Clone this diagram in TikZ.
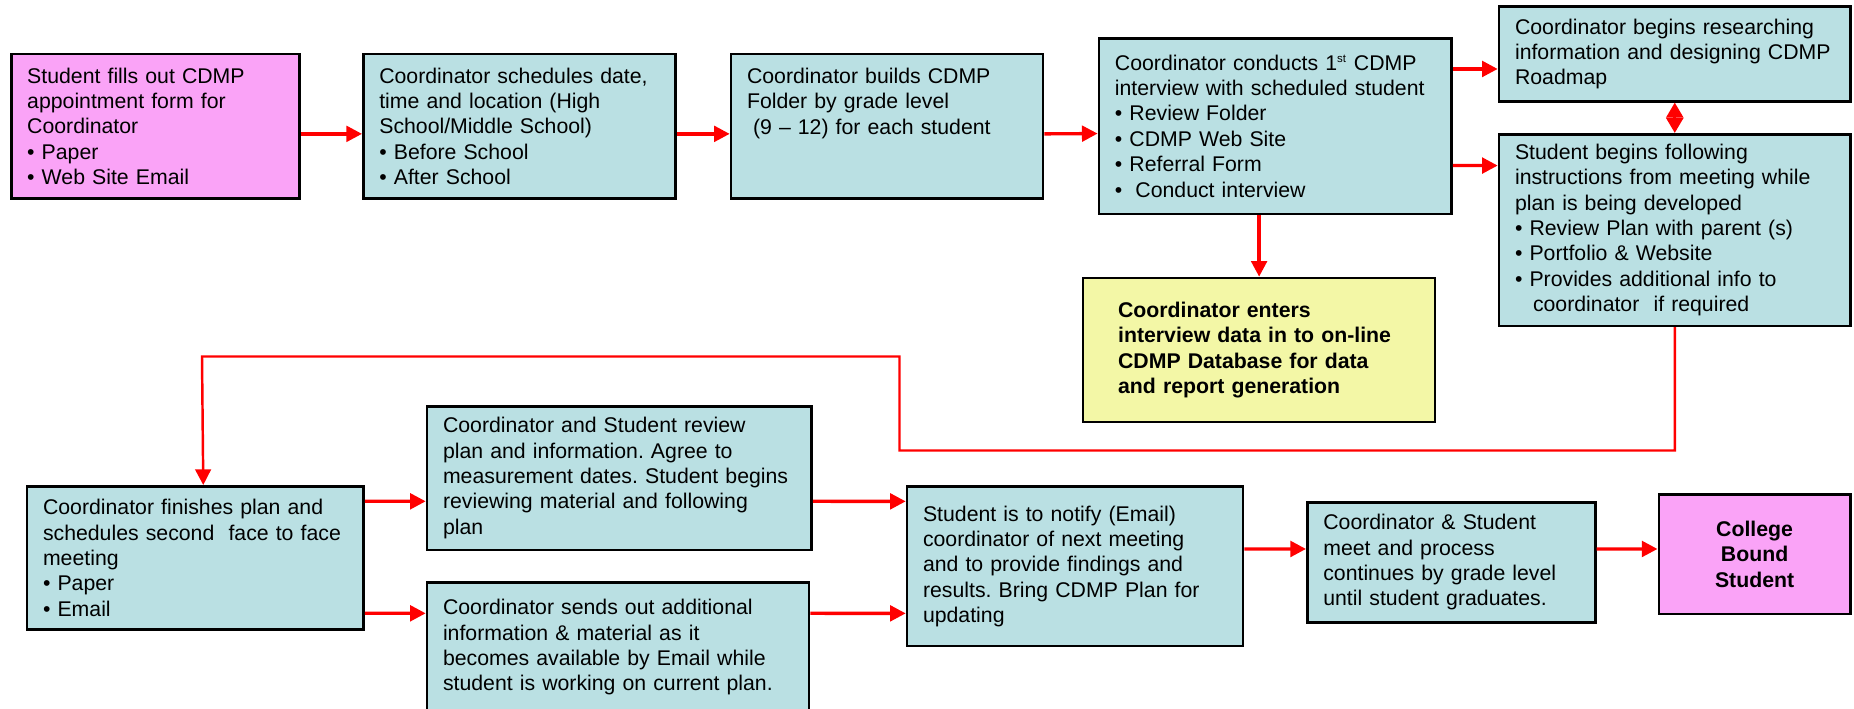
\documentclass[tikz,border=0pt]{standalone}
\usepackage{fontspec}
\setmainfont{Liberation Sans}
\usepackage{xcolor}
\usepackage{tikz}
\usetikzlibrary{arrows.meta}
\definecolor{stepblue}{RGB}{186,224,227}
\definecolor{startpink}{RGB}{250,163,247}
\definecolor{dbyellow}{RGB}{243,247,166}
\frenchspacing
\hyphenpenalty=10000
\exhyphenpenalty=10000

\begin{document}
\begin{tikzpicture}[
                  box/.style={draw=black, line width=1.5pt, fill=stepblue, anchor=north west,
                          inner xsep=0.32cm, inner ysep=2pt, align=left,
                          font=\fontsize{12.1}{14.45}\selectfont},
                  flow/.style={draw=red, line width=1.9pt, -{Triangle[length=8.9pt, width=8.9pt]}}
              ]
                  \useasboundingbox (0, 0) rectangle (37.08, 14.16);

                  \node[box, fill=startpink, text width=5.12cm, minimum height=2.89cm] (form) at (0.198, 13.104)
                  {Student fills out CDMP\\appointment form for\\Coordinator\\\textbullet\ Paper\\\textbullet\ Web Site Email};
                  \node[box, text width=5.6cm, minimum height=2.89cm] (sched) at (7.24, 13.104)
                  {Coordinator schedules date,\\time and location (High\\School/Middle School)\\\textbullet\ Before School\\\textbullet\ After School};
                  \node[box, text width=5.6cm, minimum height=2.89cm] (folder) at (14.594, 13.104)
                  {Coordinator builds CDMP\\Folder by grade level\\\hspace*{0.12cm}(9 -- 12) for each student\\~\\~};
                  \node[box, text width=6.41cm, minimum height=3.51cm] (interview) at (21.952, 13.42)
                  {Coordinator conducts 1\textsuperscript{\fontsize{6.5}{6.5}\selectfont st} CDMP\\interview with scheduled student\\\textbullet\ Review Folder\\\textbullet\ CDMP Web Site\\\textbullet\ Referral Form\\\textbullet\ \hspace{0.12cm}Conduct interview};
                  \node[box, text width=6.39cm, minimum height=1.89cm] (research) at (29.954, 14.052)
                  {Coordinator begins researching\\information and designing CDMP\\Roadmap};
                  \node[box, text width=6.39cm, minimum height=3.83cm] (follow) at (29.954, 11.5)
                  {Student begins following\\instructions from meeting while\\plan is being developed\\\textbullet\ Review Plan with parent (s)\\\textbullet\ Portfolio \& Website\\\textbullet\ Provides additional info to\\\hspace*{0.36cm}coordinator\ \ if required};
                  \node[box, fill=dbyellow, inner xsep=0.7cm, text width=5.64cm, minimum height=2.88cm, font=\fontsize{12.1}{14.45}\selectfont\bfseries] (enter) at (21.636, 8.626)
                  {Coordinator enters\\interview data in to on-line\\CDMP Database for data\\and report generation};

                  \node[box, text width=6.09cm, minimum height=2.86cm] (finish) at (0.514, 4.46)
                  {Coordinator finishes plan and\\schedules second\ \ face to face\\meeting\\\textbullet\ Paper\\\textbullet\ Email};
                  \node[box, text width=7.05cm, minimum height=2.87cm] (review) at (8.514, 6.06)
                  {Coordinator and Student review\\plan and information. Agree to\\measurement dates. Student begins\\reviewing material and following\\plan};
                  \node[box, text width=7.0cm, minimum height=2.6cm] (sends) at (8.514, 2.54)
                  {Coordinator sends out additional\\information \& material as it\\becomes available by Email while\\student is working on current plan.};
                  \node[box, text width=6.08cm, minimum height=3.19cm] (notify) at (18.114, 4.454)
                  {Student is to notify (Email)\\coordinator of next meeting\\and to provide findings and\\results. Bring CDMP Plan for\\updating};
                  \node[box, text width=5.12cm, minimum height=2.4cm] (meet) at (26.12, 4.14)
                  {Coordinator \& Student\\meet and process\\continues by grade level\\until student graduates.};
                  \node[box, fill=startpink, align=center, text width=3.19cm, minimum height=2.39cm, font=\fontsize{12.1}{14.45}\selectfont\bfseries] (college) at (33.15, 4.3)
                  {College\\Bound\\Student};

                  \foreach \a/\b in {form/sched, sched/folder, folder/interview} {
                          \draw[flow] ([yshift=-0.15cm]\a.east) -- ([yshift=-0.15cm]\b.west);
                      }
                  \draw[flow] ([yshift=1.142cm]interview.east) -- ([yshift=-0.3cm]research.west);
                  \draw[flow] ([yshift=-0.79cm]interview.east) -- ([yshift=1.29cm]follow.west);
                  \draw[flow, {Triangle[length=8.6pt, width=9.5pt]}-{Triangle[length=8.6pt, width=9.5pt]}] (research.south) -- (follow.north);
                  \draw[flow] (interview.south -| enter.north) -- (enter.north);

                  \draw[flow, line width=1.4pt] (follow.south) |- (17.99, 5.15) |- (4.04, 7.03) -- ([xshift=0.16cm]finish.north);

                  \draw[flow] ([yshift=1.13cm]finish.east) -- ([yshift=-0.465cm]review.west);
                  \draw[flow] ([yshift=-1.11cm]finish.east) -- ([yshift=0.68cm]sends.west);
                  \draw[flow] ([yshift=-0.465cm]review.east) -- ([yshift=1.3cm]notify.west);
                  \draw[flow] ([yshift=0.68cm]sends.east) -- ([yshift=-0.94cm]notify.west);
                  \draw[flow] ([yshift=0.348cm]notify.east) -- ([yshift=0.267cm]meet.west);
                  \draw[flow] ([yshift=0.267cm]meet.east) -- ([yshift=0.102cm]college.west);
              \end{tikzpicture}
\end{document}
